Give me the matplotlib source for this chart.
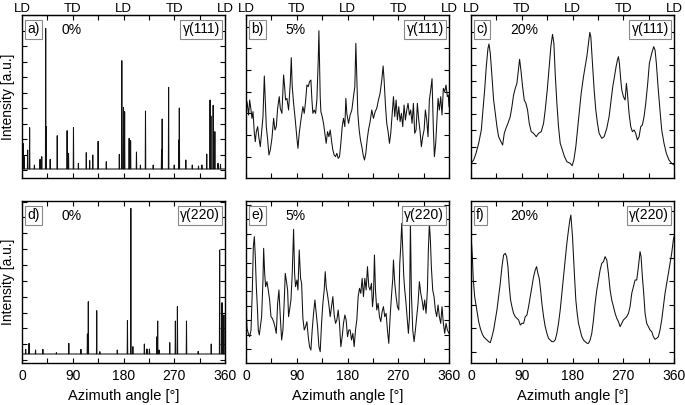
import numpy as np
import matplotlib
matplotlib.use('Agg')
import matplotlib.pyplot as plt
from matplotlib.ticker import FixedLocator, MultipleLocator

plt.rcParams['font.family'] = ['Liberation Sans', 'DejaVu Sans']

# ---------------- data (intensity in arbitrary units) ----------------
# a) 0 %, gamma(111): sharp peaks on a flat background
a_peak_angle = [1.8, 4, 10, 13.5, 22, 32, 35, 42, 43, 50, 62.5, 80, 82.5, 91.3, 100, 114, 120,
                125.5, 135, 149.5, 172.6, 177, 180, 182, 190, 192.6, 203, 210, 219, 232.7, 247.5,
                248.6, 260, 270, 278, 279, 290.5, 302, 313, 319, 327.6, 333.5, 335, 339, 342,
                347.6, 352]
a_peak_int = [104, 64, 84, 151, 39, 56, 64, 449, 154, 56, 127, 142, 74, 151, 44, 76, 52,
              69, 110, 49, 71, 352, 212, 199, 119, 112, 78, 39, 201, 39, 86,
              177, 272, 39, 114, 210, 54, 39, 36, 39, 72, 234, 186, 218, 139,
              44, 41]
a_base = 27

# d) 0 %, gamma(220)
d_peak_angle = [6.5, 12.5, 24, 37, 61, 83, 104.5, 116, 117.6, 132.5, 138, 169, 187, 193, 196.6,
                217, 221.6, 226, 239.4, 240.6, 243, 262, 272, 275.6, 291.7, 312.5, 335.6, 350.5,
                354.7, 356.4, 358]
d_peak_int = [41, 59, 39, 41, 31, 59, 41, 87, 184, 157, 34, 39, 127, 464, 49,
              57, 42, 42, 79, 126, 39, 61, 126, 169, 126, 35, 57, 339,
              181, 114, 144]
d_base = 27

# b) 5 %, gamma(111)
b_angle = [0, 1.8, 4.7, 6.5, 8.9, 10.6, 12.4, 14.8, 16.5, 18.3, 20.7, 23.0, 25.4, 28.3, 30.1,
           32.5, 34.2, 36.0, 38.4, 40.7, 43.1, 46.0, 49.0, 51.3, 53.7, 56.1, 59.0, 60.8, 63.7,
           66.7, 68.5, 70.2, 72.6, 75.5, 78.5, 80.3, 82.0, 84.4, 87.4, 90.3, 92.1, 94.4, 97.4,
           100.9, 103.3, 105.6, 108.0, 110.4, 112.7, 115.1, 116.9, 118.6, 121.0, 123.4, 125.7,
           128.1, 129.3, 130.5, 131.6, 132.8, 135.2, 137.5, 139.9, 142.2, 144.6, 147.0, 149.3,
           152.3, 154.0, 156.4, 158.8, 161.1, 163.5, 165.8, 168.2, 170.6, 172.9, 175.3, 177.1,
           178.8, 181.8, 184.7, 187.7, 190.6, 193.0, 194.8, 196.5, 198.3, 200.7, 203.0, 205.4,
           207.8, 210.1, 212.5, 214.8, 217.2, 220.1, 223.1, 226.0, 229.0, 231.9, 234.9, 237.8,
           240.8, 243.2, 244.9, 247.3, 249.6, 252.0, 254.4, 256.7, 259.1, 261.5, 263.8, 266.2,
           268.5, 270.9, 273.3, 275.6, 278.0, 280.3, 282.7, 285.1, 287.4, 289.8, 292.1, 294.5,
           296.9, 299.2, 301.6, 303.9, 306.3, 308.7, 311.0, 313.4, 315.8, 318.1, 320.5, 322.8,
           325.2, 327.6, 329.9, 332.3, 334.1, 336.4, 338.2, 340.6, 342.9, 345.3, 347.6, 350.0,
           352.4, 354.7, 357.1, 358.8, 360]
b_int = [194, 229, 189, 234, 204, 179, 199, 134, 109, 139, 154, 119, 94, 149, 184,
         306, 234, 154, 114, 69, 84, 119, 179, 144, 154, 209, 244, 209, 194,
         309, 274, 234, 239, 204, 284, 361, 274, 224, 174, 119, 89, 134, 174,
         214, 194, 229, 279, 274, 289, 294, 234, 194, 204, 194, 234,
         354, 442, 334, 244, 199, 184, 164, 134, 104, 139, 124, 144,
         104, 84, 69, 64, 74, 59, 64, 104, 154, 179, 154, 239,
         194, 164, 189, 204, 244, 274, 404, 299, 194, 144, 114, 94,
         69, 54, 74, 114, 144, 169, 204, 179, 199, 209, 234, 254,
         294, 336, 294, 219, 164, 139, 104, 134, 189, 244, 184, 234,
         174, 214, 169, 194, 154, 219, 174, 204, 224, 189, 204, 164,
         224, 134, 144, 224, 174, 139, 94, 124, 144, 204, 174, 124,
         234, 264, 298, 144, 64, 104, 164, 239, 204, 244, 189, 269,
         259, 279, 244, 249, 214]

# c) 20 %, gamma(111)
c_angle = [0, 4.7, 8.9, 13.6, 18.3, 20.7, 24.2, 27.1, 30.1, 31.9, 34.2, 37.2, 40.1, 43.1, 46.0,
           49.0, 53.1, 56.1, 59.0, 62.0, 65.5, 69.6, 72.6, 75.5, 78.5, 81.4, 84.4, 86.2, 88.5,
           91.5, 94.4, 97.4, 100.3, 103.3, 106.8, 111.0, 115.7, 119.8, 124.5, 128.7, 131.6,
           135.2, 138.7, 141.6, 144.6, 147.0, 149.3, 152.3, 155.2, 158.2, 161.1, 165.8, 170.0,
           175.9, 179.4, 182.4, 185.9, 190.6, 195.4, 199.5, 202.4, 205.4, 208.3, 210.7, 212.5,
           215.4, 218.4, 221.3, 224.3, 227.2, 231.9, 236.1, 240.8, 244.9, 248.5, 251.4, 254.4,
           257.3, 259.7, 261.5, 263.2, 265.6, 267.4, 270.3, 273.3, 275.6, 277.4, 280.3, 283.3,
           286.2, 289.2, 292.1, 295.1, 298.1, 301.0, 303.9, 306.9, 309.9, 313.4, 316.3, 320.5,
           324.0, 326.4, 328.7, 331.7, 334.6, 338.2, 342.3, 346.4, 351.1, 355.9, 360]
c_int = [44, 54, 74, 104, 144, 194, 264, 334, 389, 402, 374, 304, 234, 194, 154,
         124, 109, 99, 134, 149, 164, 184, 214, 249, 269, 284, 329, 356, 324,
         274, 234, 224, 204, 164, 139, 134, 124, 134, 139, 164, 204,
         264, 334, 394, 431, 404, 314, 224, 154, 104, 89, 64, 49,
         44, 37, 54, 94, 174, 254, 304, 334, 364, 404, 437, 424,
         344, 264, 204, 164, 134, 119, 124, 149, 184, 234, 274, 304,
         334, 354, 364, 344, 294, 264, 244, 234, 284, 254, 194, 154,
         139, 144, 134, 114, 124, 154, 159, 184, 224, 284, 344, 374,
         394, 384, 344, 274, 214, 144, 104, 74, 54, 44, 39]

# e) 5 %, gamma(220)
e_angle = [0, 1.8, 4.1, 6.5, 8.9, 11.2, 13.0, 14.8, 16.5, 18.3, 20.1, 21.8, 23.6, 25.4, 27.7,
           30.1, 31.3, 33.1, 34.8, 37.2, 39.5, 41.9, 44.3, 46.6, 49.0, 51.3, 53.7, 56.1, 58.4,
           60.8, 63.2, 65.5, 67.9, 69.6, 71.4, 73.8, 75.5, 77.3, 79.7, 82.0, 84.4, 86.2, 87.9,
           90.3, 92.1, 94.4, 96.8, 98.6, 100.9, 103.3, 105.6, 108.0, 110.4, 112.7, 115.1,
           117.4, 119.8, 122.2, 124.5, 126.9, 129.3, 131.6, 134.0, 136.3, 138.7, 140.5, 142.2,
           144.6, 147.0, 149.3, 151.7, 154.0, 156.4, 158.8, 161.1, 163.5, 165.8, 168.2, 170.6,
           172.9, 175.3, 177.6, 180.0, 182.4, 184.7, 187.1, 189.5, 191.8, 194.2, 196.5, 198.9,
           201.3, 203.6, 206.0, 208.3, 210.7, 213.1, 215.4, 217.8, 220.1, 222.5, 224.3, 226.0,
           227.8, 229.6, 231.9, 234.3, 236.7, 239.0, 241.4, 243.7, 246.1, 248.5, 250.8, 253.2,
           255.6, 257.9, 260.3, 261.5, 263.8, 266.2, 268.5, 270.9, 272.7, 274.4, 276.2, 278.0,
           279.8, 281.5, 283.3, 285.7, 288.0, 289.8, 291.6, 293.3, 295.7, 298.1, 300.4, 302.8,
           305.1, 307.5, 309.9, 312.2, 314.6, 316.9, 319.3, 321.7, 323.4, 325.2, 327.0, 328.7,
           331.1, 333.5, 335.8, 338.2, 340.6, 342.9, 345.3, 347.6, 350.0, 352.4, 354.7, 357.1,
           360]
e_int = [169, 104, 89, 79, 99, 219, 349, 379, 319, 229, 169, 99, 84, 109, 139,
         249, 344, 269, 229, 244, 219, 189, 139, 134, 124, 109, 89, 179, 219,
         139, 69, 99, 189, 269, 249, 219, 139, 159, 189, 269, 401, 269, 229,
         249, 219, 339, 254, 239, 134, 99, 109, 124, 79, 49, 39,
         99, 149, 189, 149, 109, 49, 34, 119, 179, 219, 274, 229,
         204, 174, 139, 169, 199, 144, 119, 129, 159, 119, 49, 79,
         119, 144, 129, 79, 99, 99, 69, 89, 49, 99, 129, 199,
         224, 209, 254, 199, 254, 219, 289, 229, 219, 239, 169, 199,
         324, 219, 159, 179, 139, 124, 154, 169, 139, 149, 99, 59,
         139, 199, 254, 309, 239, 199, 169, 159, 299, 349, 419, 339,
         259, 219, 189, 139, 89, 134, 419, 209, 99, 64, 99, 139,
         179, 244, 209, 189, 159, 189, 149, 219, 339, 419, 369, 289,
         219, 199, 159, 139, 174, 139, 119, 169, 119, 89, 119, 99,
         89]

# f) 20 %, gamma(220)
f_angle = [0, 1.2, 2.4, 4.1, 6.5, 8.9, 11.2, 13.6, 16.5, 19.5, 22.4, 25.4, 28.3, 31.3, 34.2,
           37.2, 40.1, 43.1, 46.0, 49.0, 51.9, 54.9, 57.8, 60.8, 63.2, 65.5, 67.9, 70.2, 72.6,
           75.5, 78.5, 81.4, 84.4, 87.4, 90.3, 93.3, 96.2, 99.2, 102.1, 105.1, 108.0, 111.0,
           113.9, 116.3, 118.6, 121.0, 123.4, 125.7, 128.7, 131.6, 134.6, 137.5, 140.5, 143.4,
           146.4, 149.3, 152.3, 155.2, 158.2, 161.1, 164.1, 167.0, 170.0, 172.9, 175.3, 177.1,
           178.2, 180.0, 181.8, 183.6, 185.9, 188.3, 190.6, 193.6, 196.5, 199.5, 202.4, 206.0,
           208.3, 211.3, 214.2, 217.2, 220.1, 223.1, 226.0, 229.0, 231.9, 234.9, 237.8, 240.8,
           243.7, 246.7, 249.6, 252.6, 255.6, 258.5, 261.5, 264.4, 267.4, 270.3, 273.3, 276.2,
           279.2, 282.1, 285.1, 288.0, 291.0, 293.9, 296.9, 299.8, 301.6, 303.9, 306.3, 308.7,
           311.6, 314.6, 317.5, 320.5, 323.4, 326.4, 329.3, 332.3, 335.2, 338.2, 341.1, 344.1,
           347.1, 350.0, 353.0, 355.9, 358.8, 360]
f_int = [379, 354, 319, 249, 199, 174, 149, 124, 104, 89, 79, 74, 69, 64, 61,
         79, 99, 129, 159, 199, 239, 289, 324, 329, 319, 289, 229, 189, 169,
         149, 139, 134, 129, 114, 119, 119, 139, 144, 169, 199, 229, 259,
         279, 289, 269, 254, 219, 179, 139, 109, 89, 74, 69, 64,
         64, 69, 89, 119, 159, 209, 259, 309, 359, 399, 429, 444,
         419, 379, 319, 259, 189, 149, 119, 99, 79, 69, 64, 59,
         59, 69, 89, 129, 179, 219, 249, 279, 299, 304, 319, 309,
         269, 219, 189, 169, 149, 134, 124, 109, 119, 129, 134, 139,
         149, 169, 209, 229, 249, 249, 289, 334, 319, 259, 209, 149,
         119, 109, 99, 94, 79, 71, 74, 79, 99, 129, 169, 209,
         239, 269, 299, 329, 369, 379]

panel_letters = ['a)', 'b)', 'c)', 'd)', 'e)', 'f)']
strains = ['0%', '5%', '20%', '0%', '5%', '20%']
reflections = ['γ(111)', 'γ(111)', 'γ(111)', 'γ(220)', 'γ(220)', 'γ(220)']
x_ticks = [0, 90, 180, 270, 360]
top_labels = ['LD', 'TD', 'LD', 'TD', 'LD']


def spike_line(angles, heights, base, w=0.45):
    order = np.argsort(angles)
    xs, ys = [0.0], [base]
    for i in order:
        xs += [angles[i] - w, angles[i], angles[i] + w]
        ys += [base, heights[i], base]
    xs.append(360.0)
    ys.append(base)
    return np.array(xs), np.array(ys)


W, H = 685, 405
fig = plt.figure(figsize=(W / 100, H / 100), dpi=100)

cols = [(22, 225), (246, 449), (471, 674)]
rows = [(15, 178), (201, 363)]

series = [
    spike_line(a_peak_angle, a_peak_int, a_base),
    (np.array(b_angle), np.array(b_int)),
    (np.array(c_angle), np.array(c_int)),
    spike_line(d_peak_angle, d_peak_int, d_base),
    (np.array(e_angle), np.array(e_int)),
    (np.array(f_angle), np.array(f_int)),
]
ylims = [489, 489, 489, 486, 486, 486]
ytick_specs = [(24, 46.5), (-1, 65), (44, 49.4), (9, 47.5), (42, 43.2), (34, 70.5)]

for k in range(6):
    r, c = divmod(k, 3)
    l, rgt = cols[c]
    t, b = rows[r]
    ax = fig.add_axes([l / W, 1 - b / H, (rgt - l) / W, (b - t) / H])
    x, y = series[k]
    ax.plot(x, y, color='#111111', lw=0.75)
    ax.set_xlim(0, 360)
    ax.set_ylim(0, ylims[k])
    ax.set_xticks(x_ticks)
    ax.xaxis.set_minor_locator(MultipleLocator(45))
    s0, st = ytick_specs[k]
    ax.yaxis.set_major_locator(FixedLocator(np.arange(s0, ylims[k], st)))
    ax.tick_params(axis='both', which='both', direction='in', top=True, right=True,
                   length=3.5, width=0.8, labelsize=10, pad=4)
    ax.tick_params(axis='y', labelleft=False)
    if r == 0:
        ax.tick_params(axis='x', labelbottom=False)
        sec = ax.secondary_xaxis('top')
        sec.set_xticks(x_ticks)
        sec.set_xticklabels(top_labels)
        sec.tick_params(length=0, labelsize=9.5, pad=0.2)
    else:
        ax.set_xlabel('Azimuth angle [°]', fontsize=10.5, labelpad=4.5)
    for sp in ax.spines.values():
        sp.set_linewidth(1.0)
    box = dict(boxstyle='square,pad=0.18', fc='white', ec='#888888', lw=0.8)
    ax.text(0.025, 0.955, panel_letters[k], transform=ax.transAxes, ha='left', va='top',
            fontsize=10, bbox=box)
    ax.text(0.195, 0.95, strains[k], transform=ax.transAxes, ha='left', va='top', fontsize=10)
    ax.text(0.975, 0.955, reflections[k], transform=ax.transAxes, ha='right', va='top',
            fontsize=10, bbox=box)
    if c == 0:
        fig.text(8 / W, 1 - ((t + b) / 2) / H, 'Intensity [a.u.]', rotation=90,
                 ha='center', va='center', fontsize=10)

fig.savefig('out.png', dpi=100)
